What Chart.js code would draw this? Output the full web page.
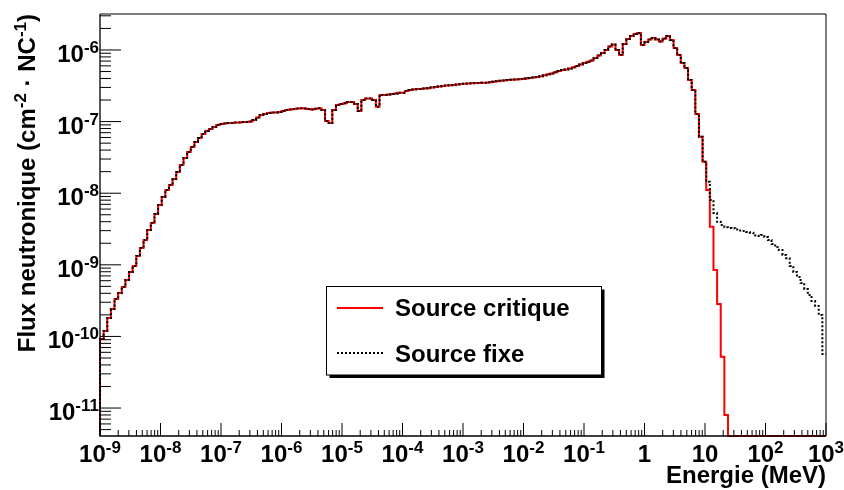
<!DOCTYPE html>
<html>
<head>
<meta charset="utf-8">
<script src="https://cdn.jsdelivr.net/npm/chart.js@4.4.1/dist/chart.umd.min.js"></script>
<style>
  html, body { margin: 0; padding: 0; background: #fff; }
  #wrap { width: 844px; height: 490px; position: relative; }
</style>
</head>
<body>
<div id="wrap"><canvas id="flux-chart"></canvas></div>
<script>
// histogram binning: 200 log-spaced bins between 1e-9 and 1e3 MeV
const E_MIN = 1e-9;
const E_MAX = 1e3;
const N_BINS = 200;
const Y_MIN = 4.07e-12;
const Y_MAX = 3.18e-6;

const seriesLabels = ['Source critique', 'Source fixe'];
const seriesColors = ['#ff0000', '#000000'];

const xTickLabels = [
    ['10', '-9'], ['10', '-8'], ['10', '-7'], ['10', '-6'], ['10', '-5'], ['10', '-4'], ['10', '-3'],
    ['10', '-2'], ['10', '-1'], ['1', ''], ['10', ''], ['10', '2'], ['10', '3']
];
const xTickValues = [1e-9, 1e-8, 1e-7, 1e-6, 1e-5, 1e-4, 1e-3, 1e-2, 1e-1, 1, 10, 100, 1000];
const yTickLabels = [['10', '-11'], ['10', '-10'], ['10', '-9'], ['10', '-8'], ['10', '-7'], ['10', '-6']];
const yTickValues = [1e-11, 1e-10, 1e-9, 1e-8, 1e-7, 1e-6];

// bins 0..166 : both sources give the same flux
const fluxCommon = [
    9.20e-11, 1.19e-10, 1.81e-10, 2.41e-10, 3.33e-10, 4.04e-10, 4.90e-10, 6.14e-10, 7.93e-10, 9.62e-10,
    1.33e-9, 1.72e-9, 2.22e-9, 3.06e-9, 3.84e-9, 5.12e-9, 6.84e-9, 8.85e-9, 1.11e-8, 1.30e-8,
    1.58e-8, 1.98e-8, 2.48e-8, 3.10e-8, 3.76e-8, 4.42e-8, 5.19e-8, 5.90e-8, 6.71e-8, 7.39e-8,
    7.88e-8, 8.41e-8, 8.97e-8, 9.25e-8, 9.40e-8, 9.55e-8, 9.55e-8, 9.71e-8, 9.71e-8, 9.87e-8,
    9.87e-8, 1.00e-7, 1.05e-7, 1.14e-7, 1.24e-7, 1.28e-7, 1.32e-7, 1.34e-7, 1.34e-7, 1.36e-7,
    1.41e-7, 1.45e-7, 1.48e-7, 1.50e-7, 1.52e-7, 1.53e-7, 1.52e-7, 1.50e-7, 1.48e-7, 1.51e-7,
    1.53e-7, 1.45e-7, 1.02e-7, 9.55e-8, 1.45e-7, 1.71e-7, 1.76e-7, 1.80e-7, 1.88e-7, 1.88e-7,
    1.76e-7, 1.41e-7, 2.00e-7, 2.10e-7, 2.10e-7, 2.00e-7, 1.61e-7, 2.35e-7, 2.35e-7, 2.39e-7,
    2.43e-7, 2.47e-7, 2.53e-7, 2.53e-7, 2.68e-7, 2.76e-7, 2.81e-7, 2.85e-7, 2.85e-7, 2.90e-7,
    2.92e-7, 3.00e-7, 3.04e-7, 3.09e-7, 3.14e-7, 3.19e-7, 3.21e-7, 3.24e-7, 3.30e-7, 3.35e-7,
    3.37e-7, 3.40e-7, 3.43e-7, 3.46e-7, 3.46e-7, 3.48e-7, 3.49e-7, 3.54e-7, 3.60e-7, 3.67e-7,
    3.72e-7, 3.75e-7, 3.81e-7, 3.83e-7, 3.87e-7, 3.90e-7, 3.94e-7, 4.00e-7, 4.06e-7, 4.13e-7,
    4.20e-7, 4.31e-7, 4.43e-7, 4.58e-7, 4.70e-7, 4.89e-7, 5.09e-7, 5.26e-7, 5.34e-7, 5.52e-7,
    5.73e-7, 5.98e-7, 6.27e-7, 6.58e-7, 6.87e-7, 7.13e-7, 7.73e-7, 8.38e-7, 9.08e-7, 1.00e-6,
    1.12e-6, 1.19e-6, 1.00e-6, 8.51e-7, 1.21e-6, 1.42e-6, 1.57e-6, 1.67e-6, 1.73e-6, 1.17e-6,
    1.29e-6, 1.40e-6, 1.47e-6, 1.40e-6, 1.31e-6, 1.45e-6, 1.57e-6, 1.38e-6, 1.07e-6, 8.51e-7,
    6.58e-7, 5.61e-7, 3.81e-7, 2.76e-7, 1.28e-7, 6.15e-8, 2.75e-8
];
// bins 167..199
const tailCritique = [
    1.11e-8, 3.40e-9, 8.46e-10, 2.84e-10, 5.21e-11, 7.98e-12, 0, 0, 0, 0,
    0, 0, 0, 0, 0, 0, 0, 0, 0, 0,
    0, 0, 0, 0, 0, 0, 0, 0, 0, 0,
    0, 0, 0
];
const tailFixe = [
    1.45e-8, 8.04e-9, 5.29e-9, 4.00e-9, 3.60e-9, 3.34e-9, 3.27e-9, 3.25e-9, 3.11e-9, 3.01e-9,
    2.96e-9, 2.87e-9, 2.81e-9, 2.57e-9, 2.52e-9, 2.61e-9, 2.44e-9, 2.22e-9, 1.95e-9, 1.77e-9,
    1.61e-9, 1.37e-9, 1.24e-9, 9.62e-10, 7.93e-10, 6.76e-10, 5.57e-10, 4.59e-10, 3.79e-10, 3.12e-10,
    2.66e-10, 1.99e-10, 5.68e-11
];

const FONT = '"Liberation Sans", Arial, Helvetica, sans-serif';
const BIG = 'bold 24px ' + FONT;
const SMALL = 'bold 17px ' + FONT;

function binEdge(i) {
    const a = Math.log10(E_MIN), b = Math.log10(E_MAX);
    return Math.pow(10, a + (b - a) * i / N_BINS);
}

// step points like a ROOT histogram; empty bins sit on the frame bottom (log scale)
function histPoints(values) {
    const pts = [{x: E_MIN, y: Y_MIN}];
    values.forEach((v, i) => pts.push({x: binEdge(i), y: Math.max(v, Y_MIN)}));
    pts.push({x: E_MAX, y: Math.max(values[values.length - 1], Y_MIN)});
    return pts;
}

// draws "base^exp"
function drawPower(ctx, base, exp, x, y, align) {
    ctx.font = BIG;
    const wb = ctx.measureText(base).width;
    ctx.font = SMALL;
    const we = exp ? ctx.measureText(exp).width : 0;
    const total = wb + we;
    let x0 = x;
    if (align === 'center') x0 = x - total / 2;
    if (align === 'right') x0 = x - total;
    ctx.textAlign = 'left';
    ctx.textBaseline = 'alphabetic';
    ctx.font = BIG;
    ctx.fillText(base, x0, y);
    if (exp) {
        ctx.font = SMALL;
        ctx.fillText(exp, x0 + wb, y - 9);
    }
}

const rootFrame = {
    id: 'rootFrame',
    afterDraw(chart) {
        const ctx = chart.ctx;
        const a = chart.chartArea;
        const xs = chart.scales.x;
        const ys = chart.scales.y;
        ctx.save();

        // frame
        ctx.strokeStyle = '#000';
        ctx.lineWidth = 1;
        ctx.beginPath();
        ctx.moveTo(a.left, a.top);
        ctx.lineTo(a.right, a.top);
        ctx.lineTo(a.right, a.bottom);
        ctx.stroke();
        ctx.lineWidth = 1.3;
        ctx.beginPath();
        ctx.moveTo(a.left, a.top);
        ctx.lineTo(a.left, a.bottom);
        ctx.lineTo(a.right, a.bottom);
        ctx.stroke();

        // ticks, pointing inside
        ctx.lineWidth = 1;
        ctx.beginPath();
        for (let n = -12; n <= -6; n++) {
            for (let k = 1; k <= 9; k++) {
                const v = k * Math.pow(10, n);
                if (v < Y_MIN || v > Y_MAX) continue;
                const py = ys.getPixelForValue(v);
                ctx.moveTo(a.left, py);
                ctx.lineTo(a.left + (k === 1 ? 21 : 11), py);
            }
        }
        for (let n = -9; n <= 3; n++) {
            for (let k = 1; k <= 9; k++) {
                const v = k * Math.pow(10, n);
                if (v < E_MIN || v > E_MAX * 1.0001) continue;
                const px = xs.getPixelForValue(v);
                ctx.moveTo(px, a.bottom);
                ctx.lineTo(px, a.bottom - (k === 1 ? 13 : 6));
            }
        }
        ctx.stroke();

        // tick labels
        ctx.fillStyle = '#000';
        xTickValues.forEach((v, i) => {
            drawPower(ctx, xTickLabels[i][0], xTickLabels[i][1], xs.getPixelForValue(v), 462, 'center');
        });
        yTickValues.forEach((v, i) => {
            drawPower(ctx, yTickLabels[i][0], yTickLabels[i][1], a.left - 1, ys.getPixelForValue(v) + 12, 'right');
        });

        // axis titles
        ctx.font = BIG;
        ctx.textAlign = 'right';
        ctx.fillText('Energie (MeV)', a.right, 483);

        const parts = [
            ['Flux neutronique (cm', BIG, 0], ['-2', SMALL, 9], [' \u00b7 NC', BIG, 0], ['-1', SMALL, 9], [')', BIG, 0]
        ];
        ctx.save();
        ctx.translate(35, a.top);
        ctx.rotate(-Math.PI / 2);
        ctx.textAlign = 'left';
        let total = 0;
        parts.forEach(p => { ctx.font = p[1]; total += ctx.measureText(p[0]).width; });
        let tx = -total;
        parts.forEach(p => {
            ctx.font = p[1];
            ctx.fillText(p[0], tx, -p[2]);
            tx += ctx.measureText(p[0]).width;
        });
        ctx.restore();

        // legend box with shadow
        const lx = 326.5, ly = 286.5, lw = 275, lh = 88.5;
        ctx.fillStyle = '#000';
        ctx.fillRect(lx + 3, ly + 3, lw, lh);
        ctx.fillStyle = '#fff';
        ctx.fillRect(lx, ly, lw, lh);
        ctx.strokeStyle = '#000';
        ctx.lineWidth = 1;
        ctx.strokeRect(lx, ly, lw, lh);

        const rows = [308, 353];
        const baselines = [316, 362];
        seriesLabels.forEach((label, i) => {
            const ds = chart.data.datasets[i];
            ctx.strokeStyle = ds.borderColor;
            ctx.lineWidth = ds.borderWidth;
            ctx.setLineDash(ds.borderDash || []);
            ctx.beginPath();
            ctx.moveTo(337, rows[i]);
            ctx.lineTo(383, rows[i]);
            ctx.stroke();
            ctx.setLineDash([]);
            ctx.fillStyle = '#000';
            ctx.font = BIG;
            ctx.textAlign = 'left';
            ctx.fillText(label, 395, baselines[i]);
        });

        ctx.restore();
    }
};

const whiteBg = {
    id: 'whiteBg',
    beforeDraw(chart) {
        const ctx = chart.ctx;
        ctx.save();
        ctx.fillStyle = '#fff';
        ctx.fillRect(0, 0, chart.width, chart.height);
        ctx.restore();
    }
};

const fluxCritique = fluxCommon.concat(tailCritique);
const fluxFixe = fluxCommon.concat(tailFixe);

new Chart(document.getElementById('flux-chart'), {
    type: 'line',
    data: {
        datasets: [{
            label: seriesLabels[0],
            data: histPoints(fluxCritique),
            borderColor: seriesColors[0],
            borderWidth: 2,
            stepped: 'before',
            pointRadius: 0,
            fill: false,
            clip: 2,
            order: 2
        }, {
            label: seriesLabels[1],
            data: histPoints(fluxFixe),
            borderColor: seriesColors[1],
            borderWidth: 2,
            borderDash: [2, 2],
            stepped: 'before',
            pointRadius: 0,
            fill: false,
            clip: 2,
            order: 1
        }]
    },
    options: {
        responsive: true,
        maintainAspectRatio: false,
        animation: false,
        events: [],
        layout: { padding: { left: 100, right: 18, top: 14, bottom: 54 } },
        scales: {
            x: { type: 'logarithmic', min: E_MIN, max: E_MAX, display: false, bounds: 'data' },
            y: { type: 'logarithmic', min: Y_MIN, max: Y_MAX, display: false, bounds: 'data' }
        },
        plugins: {
            legend: { display: false },
            tooltip: { enabled: false }
        }
    },
    plugins: [whiteBg, rootFrame]
});
</script>
</body>
</html>
